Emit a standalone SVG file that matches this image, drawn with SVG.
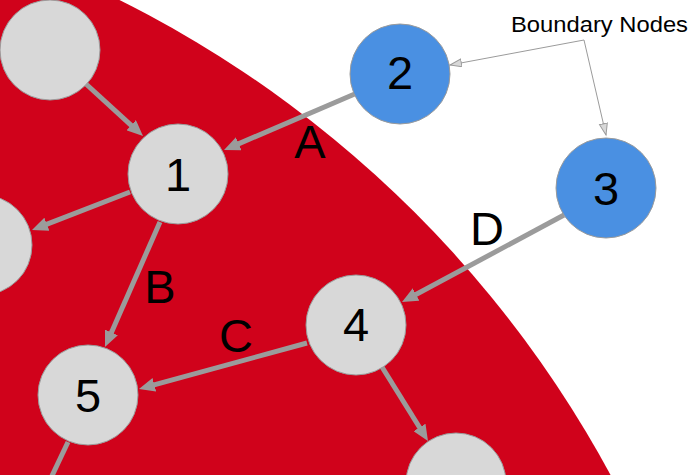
<svg xmlns="http://www.w3.org/2000/svg" width="700" height="475" viewBox="0 0 700 475">
  <style>
    .node circle { fill: #d8d8d8; stroke: #9b9b9b; stroke-width: 1; }
    .node.boundary circle { fill: #4a90e2; }
    .num { font-family: "Liberation Sans", Arial, Helvetica, sans-serif; font-size: 47px; fill: #000; text-anchor: middle; }
    .edge { stroke: #9b9b9b; stroke-width: 5; fill: none; marker-end: url(#arrow); }
    .callout { stroke: #9b9b9b; stroke-width: 1; fill: none; }
    .note { font-family: "Liberation Sans", Arial, Helvetica, sans-serif; font-size: 22.5px; fill: #000; }
  </style>
  <defs>
    <marker id="arrow" markerUnits="userSpaceOnUse" markerWidth="18" markerHeight="14" refX="6" refY="7" orient="auto">
      <path d="M0,0 L16,7 L0,14 z" fill="#9b9b9b"/>
    </marker>
    <marker id="thin" markerUnits="userSpaceOnUse" markerWidth="14" markerHeight="10" refX="12" refY="4.5" orient="auto-start-reverse">
      <path d="M0.5,0.5 L12,4.5 L0.5,8.5 z" fill="#d8d8d8" stroke="#9b9b9b" stroke-width="1"/>
    </marker>
  </defs>

  <rect width="700" height="475" fill="#ffffff"/>
  <circle id="region" cx="-386" cy="1014" r="1133" fill="#d0021b"/>

  <g id="connectors">
    <line class="edge" x1="86" y1="84" x2="135.6" y2="129.3"/>
    <line class="edge" x1="357" y1="93" x2="233.2" y2="146.1"/>
    <line class="edge" x1="130" y1="192" x2="41.3" y2="226.4"/>
    <line class="edge" x1="160" y1="222" x2="109" y2="337.9"/>
    <line class="edge" x1="307" y1="343" x2="148.6" y2="386.4"/>
    <line class="edge" x1="564" y1="215" x2="410.8" y2="297.3"/>
    <line class="edge" x1="382" y1="367" x2="422.7" y2="432.5"/>
    <line class="edge" x1="68" y1="442" x2="50" y2="480" style="marker-end:none"/>
    <polyline class="callout" points="450,65 584,40 606,135" marker-start="url(#thin)" marker-end="url(#thin)"/>
    <text class="num" x="310" y="158">A</text>
    <text class="num" x="160" y="303">B</text>
    <text class="num" x="236" y="352">C</text>
    <text class="num" x="487" y="245">D</text>
  </g>

  <g id="node-tl" class="node"><circle cx="50" cy="50" r="50"/></g>
  <g id="node-left" class="node"><circle cx="-18" cy="245" r="50"/></g>
  <g id="node-bottom" class="node"><circle cx="456" cy="483" r="50"/></g>
  <g id="node-1" class="node"><circle cx="178" cy="174" r="50"/><text class="num" x="178" y="191">1</text></g>
  <g id="node-2" class="node boundary"><circle cx="400" cy="74" r="50"/><text class="num" x="400" y="89">2</text></g>
  <g id="node-3" class="node boundary"><circle cx="606" cy="188" r="50"/><text class="num" x="606" y="205">3</text></g>
  <g id="node-4" class="node"><circle cx="356" cy="325" r="50"/><text class="num" x="356" y="341">4</text></g>
  <g id="node-5" class="node"><circle cx="88" cy="395" r="50"/><text class="num" x="88" y="412">5</text></g>

  <g id="label-boundary">
    <text class="note" x="511" y="32" textLength="177" lengthAdjust="spacingAndGlyphs">Boundary Nodes</text>
  </g>
</svg>
